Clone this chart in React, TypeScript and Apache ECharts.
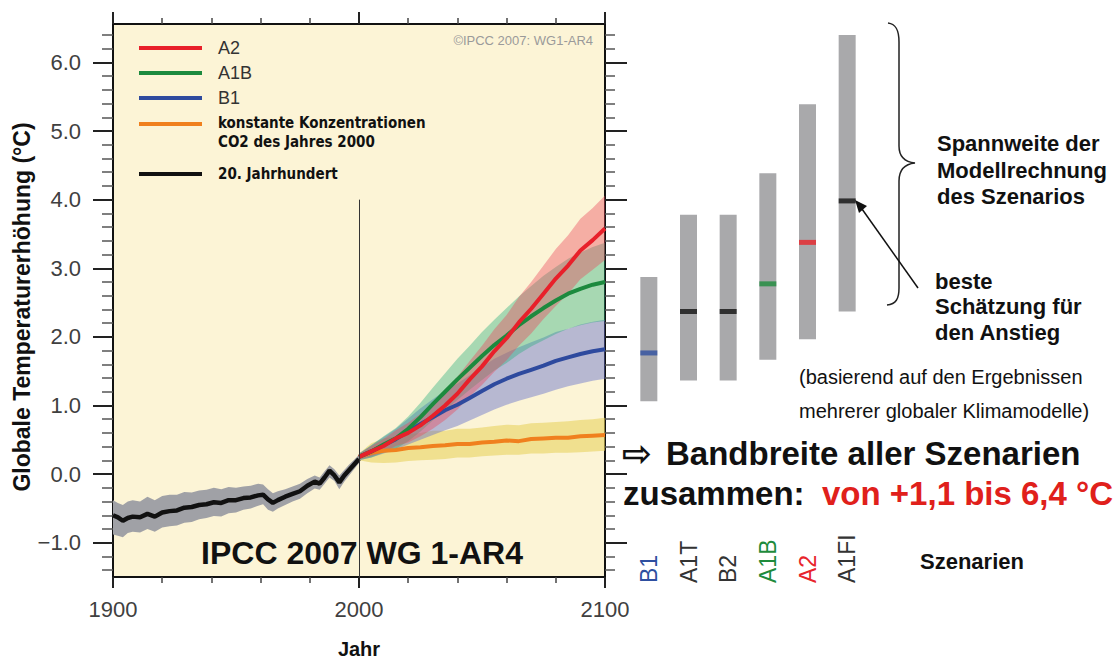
import React, { useEffect, useRef } from "react";
import * as echarts from "echarts";

// ---------- data ----------
const Y_MIN = -1.5;
const Y_MAX = 6.56;
const Y_MAJOR = [-1, 0, 1, 2, 3, 4, 5, 6];
const X_MAJOR = [1900, 2000, 2100];
const X_MINOR = [1920, 1940, 1960, 1980, 2020, 2040, 2060, 2080];

const HIST_X = [1900, 1902, 1904, 1906, 1908, 1911, 1914, 1917, 1920, 1923, 1926, 1929, 1932, 1935, 1938, 1941, 1944, 1947, 1950, 1953, 1956, 1959, 1961, 1963, 1965, 1967, 1970, 1973, 1976, 1979, 1982, 1984, 1986, 1988, 1990, 1992, 1994, 1996, 1998, 2000];
const HIST_MEAN = [-0.60, -0.63, -0.68, -0.64, -0.62, -0.63, -0.58, -0.62, -0.56, -0.54, -0.53, -0.49, -0.48, -0.45, -0.44, -0.41, -0.42, -0.38, -0.38, -0.35, -0.34, -0.31, -0.30, -0.37, -0.42, -0.38, -0.33, -0.29, -0.25, -0.17, -0.11, -0.14, -0.05, 0.05, -0.02, -0.12, -0.02, 0.06, 0.14, 0.22];
const HIST_HI = [-0.38, -0.42, -0.45, -0.40, -0.38, -0.40, -0.33, -0.38, -0.32, -0.30, -0.30, -0.26, -0.27, -0.24, -0.23, -0.20, -0.22, -0.19, -0.20, -0.18, -0.17, -0.14, -0.15, -0.22, -0.28, -0.25, -0.22, -0.18, -0.14, -0.07, -0.02, -0.05, 0.04, 0.13, 0.07, -0.02, 0.06, 0.14, 0.21, 0.28];
const HIST_LO = [-0.88, -0.90, -0.92, -0.86, -0.84, -0.85, -0.80, -0.84, -0.78, -0.76, -0.75, -0.71, -0.70, -0.66, -0.64, -0.61, -0.62, -0.57, -0.56, -0.52, -0.50, -0.46, -0.44, -0.52, -0.55, -0.50, -0.45, -0.40, -0.36, -0.28, -0.21, -0.23, -0.14, -0.05, -0.10, -0.22, -0.11, -0.02, 0.07, 0.16];

const PROJ_X = [2000, 2005, 2010, 2015, 2020, 2025, 2030, 2035, 2040, 2045, 2050, 2055, 2060, 2065, 2070, 2075, 2080, 2085, 2090, 2095, 2100];

const A2_MEAN = [0.25, 0.33, 0.41, 0.52, 0.60, 0.71, 0.85, 1.00, 1.17, 1.38, 1.57, 1.79, 1.98, 2.21, 2.41, 2.63, 2.85, 3.04, 3.26, 3.41, 3.58];
const A2_HI = [0.29, 0.41, 0.51, 0.64, 0.75, 0.88, 1.05, 1.22, 1.42, 1.65, 1.87, 2.11, 2.32, 2.58, 2.80, 3.04, 3.28, 3.48, 3.72, 3.88, 4.06];
const A2_LO = [0.21, 0.26, 0.32, 0.41, 0.46, 0.55, 0.66, 0.79, 0.94, 1.13, 1.30, 1.49, 1.66, 1.87, 2.05, 2.26, 2.45, 2.63, 2.84, 2.98, 3.12];

const A1B_MEAN = [0.25, 0.33, 0.43, 0.52, 0.66, 0.83, 1.02, 1.20, 1.38, 1.55, 1.72, 1.88, 2.02, 2.17, 2.30, 2.42, 2.53, 2.63, 2.70, 2.76, 2.80];
const A1B_HI = [0.30, 0.42, 0.55, 0.67, 0.84, 1.04, 1.26, 1.47, 1.68, 1.87, 2.07, 2.25, 2.42, 2.59, 2.74, 2.89, 3.02, 3.14, 3.23, 3.31, 3.37];
const A1B_LO = [0.20, 0.24, 0.31, 0.37, 0.48, 0.62, 0.78, 0.93, 1.08, 1.23, 1.37, 1.51, 1.62, 1.75, 1.86, 1.95, 2.04, 2.12, 2.17, 2.21, 2.23];

const B1_MEAN = [0.25, 0.33, 0.42, 0.51, 0.62, 0.73, 0.83, 0.93, 1.01, 1.11, 1.21, 1.31, 1.39, 1.46, 1.52, 1.58, 1.65, 1.70, 1.75, 1.79, 1.82];
const B1_HI = [0.30, 0.42, 0.54, 0.66, 0.81, 0.96, 1.09, 1.22, 1.32, 1.44, 1.56, 1.68, 1.77, 1.85, 1.92, 1.99, 2.07, 2.12, 2.18, 2.22, 2.25];
const B1_LO = [0.20, 0.24, 0.30, 0.36, 0.43, 0.50, 0.57, 0.64, 0.70, 0.78, 0.86, 0.94, 1.01, 1.07, 1.12, 1.17, 1.23, 1.28, 1.32, 1.36, 1.39];

const CONST_MEAN = [0.25, 0.31, 0.34, 0.35, 0.38, 0.39, 0.41, 0.42, 0.44, 0.44, 0.46, 0.47, 0.49, 0.48, 0.51, 0.52, 0.53, 0.53, 0.55, 0.56, 0.57];
const CONST_HI = [0.30, 0.45, 0.52, 0.55, 0.58, 0.60, 0.63, 0.63, 0.66, 0.66, 0.68, 0.70, 0.72, 0.71, 0.74, 0.75, 0.76, 0.77, 0.79, 0.80, 0.82];
const CONST_LO = [0.20, 0.17, 0.16, 0.17, 0.19, 0.20, 0.21, 0.22, 0.24, 0.24, 0.26, 0.27, 0.28, 0.28, 0.30, 0.30, 0.31, 0.31, 0.32, 0.33, 0.34];

const SCENARIOS = ["B1", "A1T", "B2", "A1B", "A2", "A1FI"];
const SCEN_LOW = [1.1, 1.4, 1.4, 1.7, 2.0, 2.4];
const SCEN_HIGH = [2.9, 3.8, 3.8, 4.4, 5.4, 6.4];
const SCEN_BEST = [1.8, 2.4, 2.4, 2.8, 3.4, 4.0];
const SCEN_COLORS = ["#2E4FA0", "#333333", "#333333", "#1E8B3C", "#E8242B", "#333333"];
const BEST_COLORS = ["#2E4FA0", "#111111", "#111111", "#1E8B3C", "#E8242B", "#111111"];

// ---------- styles ----------
const FONT = "'Liberation Sans', Arial, Helvetica, sans-serif";
const NARROW = "'Liberation Sans Narrow', 'DejaVu Sans Condensed', 'Arial Narrow', sans-serif";
const C_RED = "#E8202A";
const C_GREEN = "#1C8A3E";
const C_BLUE = "#2E4A9E";
const C_ORANGE = "#F0801E";
const C_BLACK = "#111111";

const Y_MINOR: number[] = [];
for (let i = -7; i <= 32; i++) {
  if (i % 5 !== 0) Y_MINOR.push(Math.round(i * 20) / 100);
}

const BRACE_D =
  "M888,23 C896,24 899,30 899,42 L899,146 C899,157 905,162 915,163 C905,164 899,170 899,181 L899,288 C899,299 896,304 887,305";
echarts.graphic.registerShape("brace", echarts.graphic.extendPath(BRACE_D, {}));

function pairs(x: number[], y: number[]) {
  return x.map((v, i) => [v, y[i]]);
}

function band(x: number[], lo: number[], hi: number[], color: string) {
  return {
    type: "custom",
    xAxisIndex: 0,
    yAxisIndex: 0,
    silent: true,
    z: 2,
    data: x.map((v, i) => [v, lo[i], hi[i]]),
    encode: { x: 0, y: [1, 2] },
    renderItem: (params: any, api: any) => {
      if (params.dataIndex !== 0) return null;
      const pts: number[][] = [];
      for (let i = 0; i < x.length; i++) pts.push(api.coord([x[i], hi[i]]));
      for (let i = x.length - 1; i >= 0; i--) pts.push(api.coord([x[i], lo[i]]));
      return { type: "polygon", shape: { points: pts }, style: { fill: color } };
    },
  };
}

function meanLine(name: string, x: number[], y: number[], color: string, extra: any = {}) {
  return {
    type: "line",
    name,
    xAxisIndex: 0,
    yAxisIndex: 0,
    data: pairs(x, y),
    symbol: "none",
    silent: true,
    lineStyle: { color, width: 4 },
    itemStyle: { color },
    z: 4,
    ...extra,
  };
}

const tickStyle = (len: number, w: number, color: string) => ({
  show: true,
  length: len,
  lineStyle: { color, width: w },
});

function buildOption(): any {
  const axisLine = { show: true, onZero: false, lineStyle: { color: "#111", width: 2 } };
  const noLine = { show: false, onZero: false };

  const xAxes = [
    {
      type: "value", gridIndex: 0, position: "bottom", min: 1900, max: 2100,
      axisLine, splitLine: { show: false },
      axisTick: { ...tickStyle(11, 2, "#222"), customValues: X_MAJOR },
      axisLabel: {
        customValues: X_MAJOR, fontSize: 22, color: "#404040", margin: 21, fontFamily: FONT,
        formatter: (v: number) => String(v),
      },
      name: "Jahr", nameLocation: "middle", nameGap: 62,
      nameTextStyle: { fontSize: 20, fontWeight: "bold", color: "#111", fontFamily: FONT },
    },
    {
      type: "value", gridIndex: 0, position: "bottom", min: 1900, max: 2100,
      axisLine: noLine, splitLine: { show: false },
      axisTick: { ...tickStyle(6, 1.5, "#444"), customValues: X_MINOR },
      axisLabel: { show: false },
    },
    {
      type: "value", gridIndex: 0, position: "top", min: 1900, max: 2100,
      axisLine, splitLine: { show: false },
      axisTick: { ...tickStyle(12, 2, "#222"), customValues: X_MAJOR },
      axisLabel: { show: false },
    },
    {
      type: "value", gridIndex: 0, position: "top", min: 1900, max: 2100,
      axisLine: noLine, splitLine: { show: false },
      axisTick: { ...tickStyle(6, 1.5, "#444"), customValues: X_MINOR },
      axisLabel: { show: false },
    },
    {
      type: "category", gridIndex: 1, position: "bottom",
      data: SCENARIOS.map((s, i) => ({
        value: s,
        textStyle: { color: SCEN_COLORS[i], align: "left", fontSize: 23, fontFamily: FONT },
      })),
      axisLine: { show: false, onZero: false }, axisTick: { show: false }, splitLine: { show: false },
      axisLabel: { rotate: 90, align: "left", margin: 2, fontSize: 23, fontFamily: FONT, interval: 0 },
    },
  ];

  const yAxes = [
    {
      type: "value", gridIndex: 0, position: "left", min: Y_MIN, max: Y_MAX,
      axisLine, splitLine: { show: false },
      axisTick: { ...tickStyle(20, 2, "#222"), customValues: Y_MAJOR },
      axisLabel: {
        customValues: Y_MAJOR, fontSize: 22, color: "#404040", margin: 32, fontFamily: FONT,
        formatter: (v: number) => (v < 0 ? "\u2212" + Math.abs(v).toFixed(1) : v.toFixed(1)),
      },
    },
    {
      type: "value", gridIndex: 0, position: "left", min: Y_MIN, max: Y_MAX,
      axisLine: noLine, splitLine: { show: false },
      axisTick: { ...tickStyle(11, 1.5, "#555"), customValues: Y_MINOR },
      axisLabel: { show: false },
    },
    {
      type: "value", gridIndex: 0, position: "right", min: Y_MIN, max: Y_MAX,
      axisLine, splitLine: { show: false },
      axisTick: { ...tickStyle(22, 2, "#222"), customValues: Y_MAJOR },
      axisLabel: { show: false },
    },
    {
      type: "value", gridIndex: 0, position: "right", min: Y_MIN, max: Y_MAX,
      axisLine: noLine, splitLine: { show: false },
      axisTick: { ...tickStyle(10, 1.5, "#555"), customValues: Y_MINOR },
      axisLabel: { show: false },
    },
    {
      type: "value", gridIndex: 1, position: "left", min: Y_MIN, max: Y_MAX,
      show: false, splitLine: { show: false },
    },
  ];

  const series: any[] = [
    band(HIST_X, HIST_LO, HIST_HI, "#A0A1A6"),
    band(PROJ_X, CONST_LO, CONST_HI, "rgba(232,210,95,0.6)"),
    band(PROJ_X, B1_LO, B1_HI, "rgba(100,110,205,0.45)"),
    band(PROJ_X, A1B_LO, A1B_HI, "rgba(40,175,125,0.4)"),
    band(PROJ_X, A2_LO, A2_HI, "rgba(235,70,90,0.4)"),
    meanLine("20. Jahrhundert", HIST_X, HIST_MEAN, C_BLACK, {
      lineStyle: { color: C_BLACK, width: 4.5 },
      markLine: {
        silent: true,
        symbol: "none",
        label: { show: false },
        lineStyle: { color: "#333", width: 1, type: "solid" },
        data: [[{ coord: [2000, 4] }, { coord: [2000, Y_MIN] }]],
      },
    }),
    meanLine("konstante Konzentrationen", PROJ_X, CONST_MEAN, C_ORANGE),
    meanLine("B1", PROJ_X, B1_MEAN, C_BLUE),
    meanLine("A1B", PROJ_X, A1B_MEAN, C_GREEN),
    meanLine("A2", PROJ_X, A2_MEAN, C_RED),
    {
      type: "bar", xAxisIndex: 4, yAxisIndex: 4, stack: "range", barWidth: 17,
      data: SCEN_LOW, itemStyle: { color: "transparent" }, silent: true,
    },
    {
      type: "bar", xAxisIndex: 4, yAxisIndex: 4, stack: "range", barWidth: 17,
      data: SCEN_HIGH.map((h, i) => Math.round((h - SCEN_LOW[i]) * 100) / 100),
      itemStyle: { color: "#A9A9AB" }, silent: true,
    },
    {
      type: "scatter", xAxisIndex: 4, yAxisIndex: 4, symbol: "rect", symbolSize: [17, 5],
      data: SCEN_BEST.map((v, i) => ({ value: v, itemStyle: { color: BEST_COLORS[i] } })),
      silent: true, z: 5,
    },
  ];

  const txt = (text: string, x: number, y: number, size: number, opts: any = {}) => ({
    type: "text",
    x,
    y,
    z: 20,
    silent: true,
    style: {
      text,
      fontSize: size,
      fontFamily: opts.family || FONT,
      fontWeight: opts.bold ? "bold" : "normal",
      fill: opts.color || "#111",
      align: opts.align || "left",
      verticalAlign: "middle",
    },
    ...(opts.rotation ? { rotation: opts.rotation } : {}),
  });

  const legendLine = (y: number, color: string) => ({
    type: "line",
    z: 20,
    silent: true,
    shape: { x1: 139, y1: y, x2: 202, y2: y },
    style: { stroke: color, lineWidth: 4 },
  });

  const graphic = [
    legendLine(48, C_RED),
    legendLine(73, C_GREEN),
    legendLine(98, C_BLUE),
    legendLine(124, C_ORANGE),
    legendLine(174, C_BLACK),
    txt("A2", 218, 48, 18, { color: "#333" }),
    txt("A1B", 218, 73, 18, { color: "#333" }),
    txt("B1", 218, 98, 18, { color: "#333" }),
    txt("konstante Konzentrationen", 218, 123, 15, { bold: true, family: NARROW }),
    txt("CO2 des Jahres 2000", 218, 142, 15, { bold: true, family: NARROW }),
    txt("20. Jahrhundert", 218, 174, 15, { bold: true, family: NARROW }),
    txt("\u00A9IPCC 2007: WG1-AR4", 593, 40, 13, { color: "#9a9a9a", align: "right" }),
    txt("IPCC 2007 WG 1-AR4", 362, 553, 32, { bold: true, align: "center" }),
    txt("Globale Temperaturerh\u00F6hung (\u00B0C)", 22, 307, 23, { bold: true, align: "center", rotation: Math.PI / 2 }),
    { type: "brace", z: 20, silent: true, x: 0, y: 0, style: { fill: "none", stroke: "#222", lineWidth: 1.5 } },
    {
      type: "line", z: 20, silent: true,
      shape: { x1: 918, y1: 288, x2: 862, y2: 209 },
      style: { stroke: "#111", lineWidth: 1.5 },
    },
    {
      type: "polygon", z: 20, silent: true,
      shape: { points: [[855, 200], [867, 206], [859, 213]] },
      style: { fill: "#111" },
    },
    txt("Spannweite der", 937, 143, 22, { bold: true }),
    txt("Modellrechnung", 937, 170, 22, { bold: true }),
    txt("des Szenarios", 937, 196, 22, { bold: true }),
    txt("beste", 935, 281, 22, { bold: true }),
    txt("Sch\u00E4tzung f\u00FCr", 935, 306, 22, { bold: true }),
    txt("den Anstieg", 935, 332, 22, { bold: true }),
    txt("(basierend auf den Ergebnissen", 799, 377, 20),
    txt("mehrerer globaler Klimamodelle)", 799, 411, 20),
    txt("\u21E8", 622, 453, 36, { bold: true, family: "'DejaVu Sans', sans-serif" }),
    txt("Bandbreite aller Szenarien", 666, 453, 33, { bold: true }),
    txt("zusammen:", 623, 493, 33, { bold: true }),
    txt("von +1,1 bis 6,4 \u00B0C", 822, 493, 33, { bold: true, color: "#E0201B" }),
    txt("Szenarien", 920, 561, 22, { bold: true }),
  ];

  return {
    animation: false,
    backgroundColor: "#ffffff",
    grid: [
      { left: 113, top: 24, width: 492, height: 557, show: true, backgroundColor: "#FCF4D6", borderWidth: 0 },
      { left: 629, top: 24, width: 238, height: 557, show: false },
    ],
    xAxis: xAxes,
    yAxis: yAxes,
    series,
    graphic,
  };
}

export default function App() {
  const ref = useRef<HTMLDivElement>(null);
  useEffect(() => {
    if (!ref.current) return;
    const chart = echarts.init(ref.current, undefined, { renderer: "svg" });
    chart.setOption(buildOption());
    return () => chart.dispose();
  }, []);
  return (
    <div
      ref={ref}
      style={{ position: "fixed", left: 0, top: 0, width: 1115, height: 664, background: "#fff" }}
    />
  );
}
